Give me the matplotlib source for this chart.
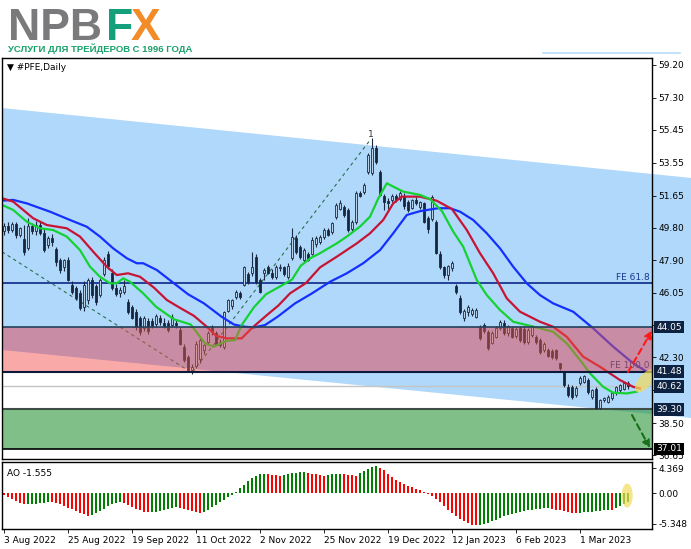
import matplotlib
matplotlib.use('Agg')
import matplotlib.pyplot as plt
import matplotlib.patches as mpatches
import matplotlib.transforms as mtrans
from matplotlib.lines import Line2D
import numpy as np

# ---- candles (bar index = position in list) ----
opens = [49.60, 49.90, 49.65, 50.00, 49.40, 49.15, 48.60, 49.90, 49.60, 49.95,
         49.50, 48.80, 49.20, 48.55, 47.90, 47.50, 47.90, 46.50, 46.30, 46.00,
         45.20, 45.60, 46.75, 46.40, 45.90, 47.10, 48.30, 47.20, 46.30, 46.00,
         46.10, 45.50, 45.20, 44.95, 44.55, 44.00, 44.40, 44.40, 44.25, 44.60,
         44.30, 44.30, 44.15, 44.30, 43.90, 42.90, 42.30, 41.60, 41.80, 42.20,
         42.70, 43.20, 44.05, 43.70, 43.20, 42.90, 45.00, 45.25, 45.80, 46.05,
         46.50, 47.10, 47.15, 48.10, 46.80, 47.18, 47.50, 47.20, 46.95, 47.45,
         47.50, 46.95, 48.05, 49.20, 48.70, 47.90, 48.25, 48.30, 48.85, 48.95,
         49.25, 49.65, 49.55, 50.40, 50.90, 51.00, 50.80, 49.70, 50.10, 51.80,
         51.85, 53.00, 52.95, 54.40, 53.00, 51.60, 51.35, 51.40, 51.60, 51.45,
         51.65, 51.30, 50.95, 51.40, 51.00, 51.20, 50.35, 50.30, 50.10, 48.30,
         47.50, 47.05, 47.45, 46.40, 45.75, 44.60, 44.90, 44.80, 44.65, 44.05,
         44.15, 43.75, 43.15, 43.50, 44.00, 44.30, 43.70, 44.00, 43.55, 44.00,
         43.95, 43.20, 43.60, 43.50, 43.30, 42.75, 42.75, 42.65, 42.70, 41.95,
         41.45, 40.60, 40.60, 40.10, 40.80, 40.90, 41.00, 40.00, 40.50, 39.40,
         39.85, 39.75, 39.95, 40.25, 40.40, 40.50, 40.80]
highs = [50.05, 50.10, 50.15, 50.10, 49.85, 49.95, 50.35, 50.05, 50.20, 50.10,
         49.70, 49.30, 49.45, 48.70, 48.05, 48.00, 48.10, 46.70, 46.45, 46.20,
         46.70, 46.90, 46.95, 46.55, 46.90, 48.10, 48.45, 47.40, 46.55, 46.35,
         46.75, 45.65, 45.35, 45.10, 44.70, 44.70, 44.60, 44.55, 44.80, 44.75,
         44.55, 44.45, 44.80, 44.45, 44.05, 43.05, 42.45, 41.90, 43.25, 43.45,
         43.10, 43.80, 44.20, 43.80, 43.35, 45.00, 45.70, 45.70, 46.20, 46.15,
         47.60, 47.25, 48.40, 48.25, 46.90, 47.45, 47.65, 47.40, 47.65, 47.70,
         47.60, 47.75, 49.80, 49.35, 48.80, 48.60, 48.40, 49.25, 49.30, 49.40,
         49.75, 49.80, 50.15, 51.20, 51.40, 51.10, 50.95, 50.25, 51.90, 51.90,
         52.35, 54.10, 54.95, 54.60, 53.10, 51.75, 51.50, 51.75, 51.75, 51.90,
         51.80, 51.40, 51.45, 51.55, 51.35, 51.30, 50.45, 51.70, 50.25, 48.45,
         47.60, 47.65, 47.85, 46.55, 45.90, 45.10, 45.30, 45.15, 45.15, 44.15,
         44.30, 43.90, 43.80, 44.10, 44.45, 44.45, 44.20, 44.10, 44.05, 44.10,
         44.10, 44.00, 44.20, 43.60, 43.40, 43.20, 42.85, 42.80, 42.80, 42.00,
         41.50, 40.75, 40.70, 40.65, 41.20, 41.30, 41.10, 40.45, 40.60, 39.90,
         40.00, 40.10, 40.30, 40.65, 40.75, 40.90, 40.95]
lows = [49.40, 49.50, 49.55, 49.20, 49.25, 48.20, 48.50, 49.45, 49.40, 49.35,
        48.40, 48.60, 48.75, 47.60, 47.20, 47.30, 46.70, 45.95, 45.60, 45.05,
        45.00, 45.40, 45.75, 45.30, 45.80, 47.00, 47.40, 46.20, 45.85, 45.80,
        45.95, 44.80, 44.50, 43.90, 43.60, 43.85, 43.65, 44.00, 44.10, 44.20,
        44.00, 43.75, 44.05, 44.00, 43.00, 42.05, 41.45, 41.35, 41.70, 42.00,
        42.50, 43.10, 43.60, 43.00, 42.90, 42.80, 44.90, 45.10, 45.70, 45.70,
        46.40, 46.55, 47.00, 46.55, 46.00, 46.80, 47.10, 46.85, 46.85, 47.30,
        47.00, 46.85, 47.95, 48.30, 48.00, 47.80, 47.85, 48.20, 48.70, 48.85,
        49.15, 49.30, 49.45, 50.30, 50.80, 50.40, 49.55, 49.60, 50.00, 51.55,
        51.75, 52.90, 52.85, 53.50, 51.60, 50.80, 50.90, 51.30, 51.30, 51.35,
        50.90, 50.70, 50.85, 51.10, 50.90, 50.05, 49.50, 50.20, 48.25, 47.40,
        46.90, 46.80, 47.30, 45.95, 44.80, 44.40, 44.70, 44.70, 44.55, 43.30,
        43.70, 42.75, 43.05, 43.40, 43.90, 43.60, 43.55, 43.40, 43.45, 43.20,
        43.10, 43.10, 43.50, 43.10, 42.50, 42.60, 42.30, 42.20, 42.15, 41.60,
        40.60, 40.00, 39.90, 40.00, 40.70, 40.80, 40.20, 39.90, 39.30, 39.30,
        39.70, 39.65, 39.85, 40.10, 40.30, 40.40, 40.45]
closes = [49.90, 49.65, 50.00, 49.40, 49.75, 48.40, 49.90, 49.60, 49.95, 49.50,
          48.50, 49.20, 48.95, 47.80, 47.35, 47.90, 46.80, 46.10, 45.75, 45.15,
          46.50, 46.75, 45.90, 45.50, 46.75, 47.90, 47.60, 46.30, 45.95, 46.20,
          46.45, 44.95, 44.60, 44.05, 43.75, 44.55, 43.80, 44.10, 44.70, 44.35,
          44.10, 43.90, 44.65, 44.20, 43.10, 42.15, 41.55, 41.75, 43.10, 43.30,
          43.00, 43.70, 43.75, 43.10, 43.00, 44.90, 45.60, 45.60, 46.10, 45.80,
          47.50, 46.65, 47.50, 46.65, 46.10, 47.35, 47.20, 46.95, 47.50, 47.55,
          47.10, 47.60, 49.25, 48.40, 48.10, 48.50, 47.95, 49.10, 49.20, 49.25,
          49.65, 49.40, 50.05, 51.10, 51.25, 50.55, 49.65, 50.10, 51.80, 51.65,
          52.25, 54.00, 54.40, 53.60, 51.70, 51.30, 51.20, 51.65, 51.40, 51.80,
          51.05, 50.80, 51.40, 51.20, 51.30, 50.15, 49.70, 51.55, 48.35, 47.50,
          47.05, 47.60, 47.75, 46.10, 44.95, 45.00, 45.20, 45.05, 45.05, 43.40,
          43.80, 42.85, 43.70, 44.00, 44.35, 43.70, 44.10, 43.50, 43.95, 43.30,
          43.20, 43.90, 44.10, 43.20, 42.60, 43.10, 42.40, 42.30, 42.25, 41.70,
          40.70, 40.10, 40.00, 40.55, 41.10, 41.20, 40.30, 40.40, 39.40, 39.85,
          39.95, 40.00, 40.25, 40.60, 40.70, 40.80, 40.62]

# ---- Alligator lines (bar, price) ----
jaw_x = [-0.5, 2.3, 5.7, 11.5, 16.5, 20.7, 24, 27.3, 30.7, 33.2, 34.8, 38.2, 42.5, 46,
         50, 54.4, 57.5, 60.25, 62.5, 65.25, 68.4, 72.75, 77, 81.5, 85.7, 89.8, 94,
         97.3, 100.7, 104, 108.5, 111.5, 114, 117.3, 120.7, 124, 127.3, 130.7, 134,
         137.3, 142.3, 147.3, 152.3, 157.3, 160.7]
jaw_y = [51.36, 51.40, 51.20, 50.72, 50.24, 49.85, 49.28, 48.60, 48.03, 47.74, 47.74,
         47.35, 46.58, 45.95, 45.42, 44.65, 44.20, 44.07, 44.03, 44.17, 44.65, 45.42,
         46.00, 46.67, 47.16, 47.74, 48.50, 49.47, 50.53, 50.75, 50.92, 50.92, 50.72,
         50.24, 49.47, 48.60, 47.54, 46.58, 45.90, 45.42, 44.94, 43.98, 42.92, 41.96,
         41.47]
teeth_x = [-0.5, 2.3, 7.3, 10.7, 15.7, 19, 22.3, 25.7, 28.2, 31, 34, 37.5, 40.7, 43.5,
           47.5, 50.7, 53, 55.7, 59.4, 62, 65.5, 68.6, 71.5, 75.5, 79, 83.2, 88.2,
           91.5, 94.8, 97.3, 99.4, 104, 108.2, 112, 115.7, 119, 122.3, 125.7, 129,
           134, 137.3, 140.7, 144.8, 149, 154, 157.3, 159]
teeth_y = [51.50, 51.30, 50.34, 49.95, 49.76, 49.28, 48.41, 47.54, 47.06, 47.16, 46.96,
           46.33, 45.62, 45.23, 44.70, 44.07, 43.55, 43.40, 43.40, 44.00, 44.70, 45.30,
           46.00, 46.60, 47.50, 48.12, 48.89, 49.47, 50.24, 51.20, 51.59, 51.59, 51.35,
           50.87, 49.66, 48.32, 47.16, 45.71, 44.94, 44.36, 44.07, 43.49, 42.34, 41.76,
           40.99, 40.60, 40.50]
lips_x = [-0.5, 2.3, 5.7, 9, 12.3, 15.7, 19, 21.5, 24, 26.5, 28.2, 29.8, 31.5, 34.8,
          38, 42.5, 46.7, 49, 50.25, 52.5, 55.5, 57.75, 59.5, 62.5, 65.5, 69, 72, 74.2,
          76.7, 79, 83.2, 85.7, 89, 91.5, 93.6, 95.7, 97.3, 99.8, 104, 106.5, 109.5,
          112.3, 114.8, 118.2, 120.7, 124, 127.3, 130.7, 134, 137.3, 140.7, 144, 146.5,
          149.8, 152.3, 155.7, 158.2]
lips_y = [51.11, 50.82, 50.14, 49.76, 49.66, 49.28, 48.50, 47.54, 46.96, 46.58, 46.58,
          46.87, 46.67, 46.00, 45.23, 44.50, 44.20, 43.49, 43.11, 42.92, 43.25, 43.30,
          44.20, 45.20, 45.95, 46.40, 46.80, 47.60, 48.05, 48.32, 48.89, 49.28, 49.86,
          50.43, 51.50, 52.36, 52.17, 51.88, 51.69, 51.45, 50.75, 49.57, 48.70, 46.77,
          45.90, 45.04, 44.36, 44.17, 43.98, 43.78, 43.11, 42.15, 41.38, 40.60, 40.26,
          40.22, 40.32]

# ---- Awesome Oscillator ----
ao = [-0.35, -0.70, -1.05, -1.40, -1.70, -1.90,
      -1.88, -1.85, -1.80, -1.75, -1.65, -1.55,
      -1.60, -1.75, -1.95, -2.20, -2.50, -2.80, -3.10, -3.40, -3.70, -3.95,
      -3.80, -3.50, -3.10, -2.70, -2.30, -1.95, -1.70, -1.55,
      -1.70, -2.00, -2.35, -2.70, -3.00, -3.20, -3.35,
      -3.30, -3.20, -3.05, -2.90, -2.75, -2.55, -2.40,
      -2.55, -2.75, -2.95, -3.15, -3.35, -3.50,
      -3.30, -2.90, -2.45, -2.00, -1.55, -1.10, -0.65, -0.25,
      0.30, 0.90, 1.50, 2.10, 2.60, 3.00, 3.30, 3.45,
      3.35, 3.25, 3.15, 3.05,
      3.20, 3.35, 3.50, 3.60, 3.70, 3.75,
      3.60, 3.45, 3.30, 3.20, 3.10,
      3.20, 3.30, 3.40, 3.45,
      3.35, 3.25, 3.15, 3.10,
      3.50, 3.90, 4.30, 4.60, 4.80,
      4.50, 4.00, 3.40, 2.80, 2.30, 1.95, 1.60, 1.35, 1.10, 0.80, 0.50, 0.20,
      -0.10, -0.50, -1.00, -1.60, -2.20, -2.90, -3.50, -4.00, -4.50, -4.90, -5.20,
      -5.50, -5.60,
      -5.55, -5.45, -5.20, -4.90, -4.60, -4.30, -4.05, -3.80, -3.60, -3.45, -3.30,
      -3.15, -3.00, -2.90, -2.80, -2.70, -2.60, -2.55,
      -2.70, -2.85, -3.00, -3.15, -3.30, -3.40, -3.45,
      -3.40, -3.35, -3.30, -3.20, -3.15, -3.10, -3.00, -2.90,
      -3.00,
      -2.60, -2.20, -1.85, -1.555]

# ---- drawn objects ----
channel_x = [-0.5, 171.75, 171.75, -0.5]
channel_y = [56.71, 52.67, 38.80, 42.73]
fib_x = [-0.5, 47, 91.5]
fib_y = [48.40, 41.40, 54.85]
fe618 = 46.60
zone_hi, zone_lo = 44.05, 41.48
support_hi, support_lo = 39.30, 37.01
last_price = 40.62
price_ticks = [59.20, 57.30, 55.45, 53.55, 51.65, 49.80, 47.90, 46.05, 44.15,
               42.30, 40.40, 38.50, 36.65]
hidden_ticks = [44.15, 40.40]      # covered by the price boxes in the terminal
date_pos = [0, 16, 32, 48, 64, 80, 96, 112, 128, 144]
date_labels = ['3 Aug 2022', '25 Aug 2022', '19 Sep 2022', '11 Oct 2022', '2 Nov 2022',
               '25 Nov 2022', '19 Dec 2022', '12 Jan 2023', '6 Feb 2023', '1 Mar 2023']

W, H = 691, 549
fig = plt.figure(figsize=(W / 100, H / 100), dpi=100)
fig.patch.set_facecolor('white')
ax = fig.add_axes([2 / W, 1 - 459 / H, 650 / W, 401 / H])
ao_ax = fig.add_axes([2 / W, 1 - 529 / H, 650 / W, 67 / H])

x = np.arange(len(closes))
ax.set_xlim(-0.5, 162)
ax.set_ylim(36.43, 59.6)

# channel (runs on past the price scale like the terminal does)
ax.add_patch(mpatches.Polygon(list(zip(channel_x, channel_y)), closed=True,
                              facecolor='#b0d8fa', edgecolor='none', zorder=0.5,
                              clip_on=False))

# resistance zone: base colour under the marks, tinted overlay on top
ax.add_patch(mpatches.Rectangle((-0.5, zone_lo), 162.5, zone_hi - zone_lo,
                                facecolor='#a4b6f6', edgecolor='none', zorder=0.8))
slope = (channel_y[2] - channel_y[3]) / (channel_x[2] - channel_x[3])
x_cross = channel_x[3] + (zone_lo - channel_y[3]) / slope
ax.add_patch(mpatches.Polygon([(-0.5, zone_lo), (-0.5, channel_y[3]), (x_cross, zone_lo)],
                              closed=True, facecolor='#ffecff', edgecolor='none',
                              zorder=0.85))
ax.add_patch(mpatches.Rectangle((-0.5, zone_lo), 162.5, zone_hi - zone_lo,
                                facecolor='#f45942', alpha=0.45, edgecolor='none',
                                zorder=3.5))
# support zone
ax.add_patch(mpatches.Rectangle((-0.5, support_lo), 162.5, support_hi - support_lo,
                                facecolor='#2b9639', alpha=0.6, edgecolor='none',
                                zorder=0.9))

ax.axhline(fe618, color='#1a3590', lw=1.3, zorder=1.5)
ax.axhline(zone_hi, color='#24405a', lw=1.2, zorder=4)
ax.axhline(zone_lo, color='#0b1a3a', lw=1.5, zorder=4)
ax.axhline(last_price, color='#c4c4c4', lw=1.0, zorder=1.4)
ax.axhline(support_hi, color='#3e4e44', lw=1.5, zorder=1.5)
ax.axhline(support_lo, color='black', lw=1.2, zorder=1.5)
ax.text(161.5, fe618 + 0.08, 'FE 61.8', ha='right', va='bottom', fontsize=6.5,
        color='#1a3590', zorder=2)
ax.text(161.5, zone_lo + 0.08, 'FE 100.0', ha='right', va='bottom', fontsize=6.5,
        color='#1a3590', zorder=3.2)

# fibo expansion legs
ax.plot(fib_x, fib_y, ls=(0, (3, 3)), color='#2e6b50', lw=0.8, zorder=1.6)
ax.text(fib_x[2] + 0.3, fib_y[2] + 0.05, '1', fontsize=6.5, color='#333333',
        ha='center', va='bottom', zorder=2)

# candles
o = np.array(opens); c = np.array(closes)
bull = c >= o
edge = '#1b2a40'
ax.vlines(x, lows, highs, color=edge, lw=0.8, zorder=2)
body_lo = np.minimum(o, c)
body_h = np.maximum(np.abs(c - o), 0.04)
ax.bar(x[bull], body_h[bull], bottom=body_lo[bull], width=0.65,
       facecolor='#bcd0e4', edgecolor=edge, linewidth=0.6, zorder=2.1)
ax.bar(x[~bull], body_h[~bull], bottom=body_lo[~bull], width=0.65,
       facecolor='#17263d', edgecolor=edge, linewidth=0.6, zorder=2.1)

# alligator
ax.plot(jaw_x, jaw_y, color='#1430ff', lw=1.6, zorder=3)
ax.plot(teeth_x, teeth_y, color='#c81434', lw=1.6, zorder=3.05)
ax.plot(lips_x, lips_y, color='#14d232', lw=1.6, zorder=3.1)

# forecast arrows
ax.annotate('', xy=(162, 43.85), xytext=(156, 41.45),
            arrowprops=dict(arrowstyle='-|>', color='#ff1a1a', lw=1.5, ls=(0, (3, 2)),
                            mutation_scale=11, shrinkA=0, shrinkB=0),
            annotation_clip=False, zorder=5)
ax.annotate('', xy=(161.5, 37.06), xytext=(157, 38.97),
            arrowprops=dict(arrowstyle='-|>', color='#1b6e1b', lw=1.5, ls=(0, (3, 2)),
                            mutation_scale=11, shrinkA=0, shrinkB=0),
            annotation_clip=False, zorder=5)


def glow(axis, bx, by, w, h, angle):
    tr = fig.dpi_scale_trans + mtrans.ScaledTranslation(bx, by, axis.transData)
    axis.add_patch(mpatches.Ellipse((0, 0), w / 100, h / 100, angle=angle,
                                    facecolor='#f2dc5a', alpha=0.7, edgecolor='none',
                                    transform=tr, clip_on=False, zorder=6))


glow(ax, 160.3, 40.95, 28, 13, 50)

# price scale
ax.yaxis.tick_right()
ax.set_yticks(price_ticks)
ax.set_yticklabels(['' if v in hidden_ticks else f'{v:.2f}' for v in price_ticks])
ax.tick_params(axis='y', length=3, width=0.6, pad=1.5, labelsize=6.5, direction='out')
ax.set_xticks([])
for s in ax.spines.values():
    s.set_linewidth(1.0)
    s.set_color('black')
    s.set_zorder(7)

for val, face in [(zone_hi, '#0d2240'), (zone_lo, '#0d2240'), (last_price, '#0d2240'),
                  (support_hi, '#0d2240'), (support_lo, 'black')]:
    ax.annotate(f'{val:.2f}', xy=(1, val), xycoords=ax.get_yaxis_transform(),
                xytext=(3, 0), textcoords='offset points', ha='left', va='center',
                fontsize=6.5, color='white', annotation_clip=False, zorder=10,
                bbox=dict(boxstyle='square,pad=0.2', fc=face, ec='none'))

ax.text(0.008, 0.988, '\u25bc #PFE,Daily', transform=ax.transAxes, ha='left', va='top',
        fontsize=6.5, color='black', zorder=8)

# ---- AO panel ----
ao_cols = ['#ff0000' if i == 0 or v <= ao[i - 1] else '#008000' for i, v in enumerate(ao)]
ao_ax.bar(np.arange(len(ao)), ao, width=0.7, color=ao_cols, edgecolor='none', zorder=2)
ao_ax.set_xlim(-0.5, 162)
ao_ax.set_ylim(-6.24, 5.47)
ao_ax.yaxis.tick_right()
ao_ax.set_yticks([4.369, 0, -5.348])
ao_ax.set_yticklabels(['4.369', '0.00', '-5.348'])
ao_ax.tick_params(axis='y', length=3, width=0.6, pad=1.5, labelsize=6.5)
ao_ax.set_xticks(date_pos)
ao_ax.set_xticklabels(date_labels, ha='left')
ao_ax.tick_params(axis='x', length=3, width=0.6, pad=2, labelsize=6.5)
for s in ao_ax.spines.values():
    s.set_linewidth(1.0)
    s.set_color('black')
ao_ax.text(0.008, 0.9, 'AO -1.555', transform=ao_ax.transAxes, ha='left', va='top',
           fontsize=6.5, color='black')
glow(ao_ax, 155.8, -0.4, 11, 24, 0)

# ---- brand header ----
fig.text(8 / W, 1 - 40 / H, 'NPB', fontsize=32, fontweight='bold', family='Liberation Sans',
         color='#7a7a7c', va='baseline')
fig.text(131 / W, 1 - 40 / H, 'X', fontsize=32, fontweight='bold', family='Liberation Sans',
         color='#f28c28', va='baseline')
fig.text(106 / W, 1 - 40 / H, 'F', fontsize=32, fontweight='bold', family='Liberation Sans',
         color='#14a07a', va='baseline')
fig.text(8 / W, 1 - 52 / H, 'УСЛУГИ ДЛЯ ТРЕЙДЕРОВ С 1996 ГОДА', fontsize=6.8,
         fontweight='bold', family=['Liberation Sans Narrow', 'Liberation Sans', 'DejaVu Sans'],
         color='#16a06a', va='baseline')
fig.add_artist(Line2D([543 / W, 680 / W], [1 - 53 / H, 1 - 53 / H], color='#b4dcf8', lw=1.2))

fig.savefig('out.png', dpi=100)
